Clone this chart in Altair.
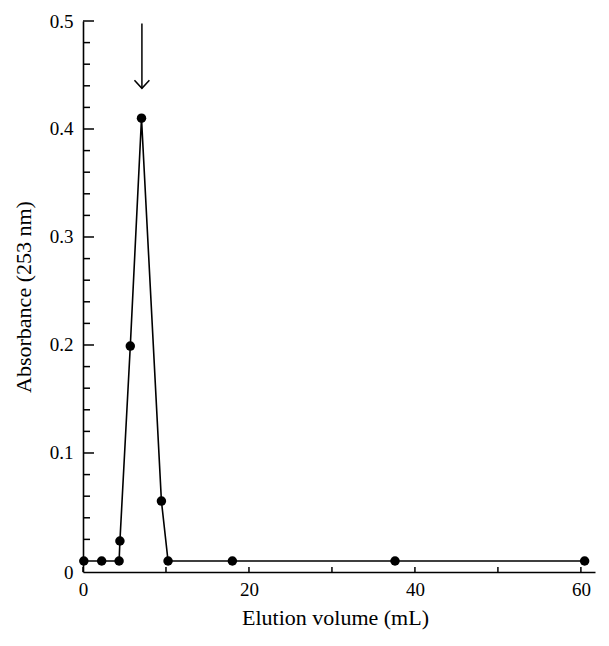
import altair as alt
import pandas as pd

# Data
elution_ml = [0.1, 2.25, 4.35, 4.45, 5.7, 7.05, 9.45, 10.25, 18.0, 37.6, 60.45]
absorbance = [0.0, 0.0, 0.0, 0.0185, 0.199, 0.410, 0.0555, 0.0, 0.0, 0.0, 0.0]

# Arrow annotation marking the peak (data units)
arrow_shaft_x = [7.1, 7.1]
arrow_shaft_y = [0.4977, 0.4377]
arrow_head_x = [6.2, 7.1, 8.0]
arrow_head_y = [0.4452, 0.4377, 0.4452]

# Axis ticks
x_ticks = [0, 10, 20, 30, 40, 50, 60]
x_labels = [0, 20, 40, 60]
y_bottom = -0.0102
y_major = [0.1, 0.2, 0.3, 0.4, 0.5]
y_minor = [0.02, 0.04, 0.06, 0.08, 0.12, 0.14, 0.16, 0.18, 0.22, 0.24, 0.26, 0.28,
           0.32, 0.34, 0.36, 0.38, 0.42, 0.44, 0.46, 0.48]

W, H = 512, 551

df = pd.DataFrame({"x": elution_ml, "y": absorbance})
shaft = pd.DataFrame({"x": arrow_shaft_x, "y": arrow_shaft_y, "o": [0, 1]})
head = pd.DataFrame({"x": arrow_head_x, "y": arrow_head_y, "o": [0, 1, 2]})
xt = pd.DataFrame({"x": x_ticks})
ymaj = pd.DataFrame({"y": y_major})
ymin = pd.DataFrame({"y": y_minor})

FONT = "Liberation Serif"

x_scale = alt.Scale(domain=[0, 61.7], nice=False, zero=False)
y_scale = alt.Scale(domain=[y_bottom, 0.5], nice=False, zero=False)

x_enc = alt.X(
    "x:Q",
    scale=x_scale,
    title="Elution volume (mL)",
    axis=alt.Axis(
        values=x_labels,
        ticks=False,
        labelPadding=8,
        labelFlush=False,
        titlePadding=8,
        titleFontSize=22,
        titleX=252,
        grid=False,
        labelOverlap=False,
    ),
)
y_enc = alt.Y(
    "y:Q",
    scale=y_scale,
    title="Absorbance (253 nm)",
    axis=alt.Axis(
        values=[y_bottom] + y_major,
        labelExpr="datum.value < 0 ? '0' : format(datum.value, '.1f')",
        ticks=False,
        labelPadding=10,
        labelFlush=False,
        titlePadding=14,
        titleFontSize=22,
        grid=False,
        labelOverlap=False,
    ),
)

line = alt.Chart(df).mark_line(color="black", strokeWidth=1.6).encode(x=x_enc, y=y_enc)
pts = alt.Chart(df).mark_circle(color="black", size=90, opacity=1).encode(x="x:Q", y="y:Q")
arrow1 = alt.Chart(shaft).mark_line(color="black", strokeWidth=1.5).encode(
    x="x:Q", y="y:Q", order="o:Q"
)
arrow2 = alt.Chart(head).mark_line(color="black", strokeWidth=1.5).encode(
    x="x:Q", y="y:Q", order="o:Q"
)
xtick_marks = alt.Chart(xt).mark_rule(color="black", strokeWidth=1.5).encode(
    x="x:Q", y=alt.value(H), y2=alt.value(H - 5)
)
ymaj_marks = alt.Chart(ymaj).mark_rule(color="black", strokeWidth=1.5).encode(
    y="y:Q", x=alt.value(0), x2=alt.value(11)
)
ymin_marks = alt.Chart(ymin).mark_rule(color="black", strokeWidth=1.5).encode(
    y="y:Q", x=alt.value(0), x2=alt.value(7)
)

chart = (
    alt.layer(line, xtick_marks, ymaj_marks, ymin_marks, pts, arrow1, arrow2)
    .properties(
        width=W,
        height=H,
        autosize=alt.AutoSizeParams(type="none"),
        padding={"left": 75, "top": 13, "right": 6, "bottom": 60},
        background="white",
    )
    .configure_view(stroke=None)
    .configure_axis(
        domainColor="black",
        domainWidth=1.6,
        labelColor="black",
        titleColor="black",
        labelFont=FONT,
        titleFont=FONT,
        labelFontSize=19,
        titleFontWeight="normal",
    )
)

chart.save("out.html", embed_options={"renderer": "svg", "actions": False})
